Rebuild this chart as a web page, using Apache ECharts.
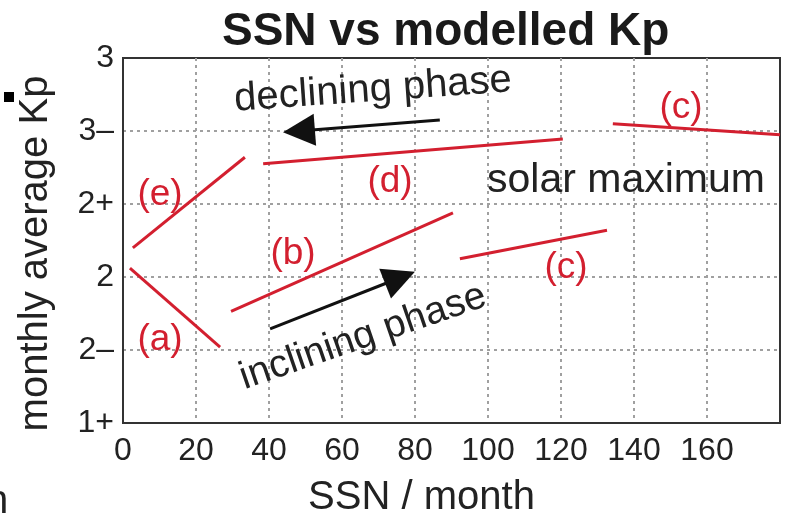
<!DOCTYPE html>
<html>
<head>
<meta charset="utf-8">
<script src="https://cdn.jsdelivr.net/npm/echarts@6/dist/echarts.min.js"></script>
<style>html,body{margin:0;padding:0;background:#fff}#c{width:787px;height:518px}</style>
</head>
<body>
<div id="c"></div>
<script>
// Kp expressed in thirds: 1+ = 4, 2- = 5, 2 = 6, 2+ = 7, 3- = 8, 3 = 9
var yTickLabels = {4: '1+', 5: '2\u2013', 6: '2', 7: '2+', 8: '3\u2013', 9: '3'};
var xTickValues = [0, 20, 40, 60, 80, 100, 120, 140, 160];

var segA = [[1.9, 6.12], [26.6, 5.04]];
var segE = [[2.7, 6.40], [33.4, 7.64]];
var segD = [[38.4, 7.55], [120.5, 7.89]];
var segB = [[29.6, 5.53], [90.4, 6.88]];
var segC1 = [[92.3, 6.25], [132.6, 6.64]];
var segC2 = [[134.2, 8.10], [180, 7.95]];

var arrowDeclining = [[86.8, 8.15], [48.2, 8.00]];
var arrowInclining = [[40.3, 5.29], [75.9, 5.99]];

var RED = '#d31f2f';
var FONT = '"Liberation Sans", Arial, sans-serif';

function seg(name, d) {
  return {
    name: name, type: 'line', data: d, showSymbol: false, symbol: 'none',
    lineStyle: {color: RED, width: 3}, itemStyle: {color: RED}, z: 3, silent: true
  };
}

var chart = echarts.init(document.getElementById('c'), null, {renderer: 'canvas'});

function txt(t, x, y, size, color, rotDeg) {
  return {
    type: 'text', x: x, y: y, rotation: (rotDeg || 0) * Math.PI / 180, z: 10,
    style: {text: t, fill: color, font: size + 'px ' + FONT, align: 'center', verticalAlign: 'middle'}
  };
}

chart.setOption({
  animation: false,
  backgroundColor: '#fff',
  title: {
    text: 'SSN vs modelled Kp', left: 217, top: 4,
    textStyle: {fontSize: 46, fontWeight: 'bold', fontFamily: FONT, color: '#1a1a1a'}
  },
  grid: {left: 123, right: 7, top: 58, bottom: 95, containLabel: false, outerBoundsMode: 'none',
         show: true, borderColor: '#333', borderWidth: 2},
  xAxis: {
    type: 'value', min: 0, max: 180, interval: 20,
    name: 'SSN / month', nameLocation: 'middle', nameGap: 55,
    nameTextStyle: {fontSize: 40, fontFamily: FONT, color: '#222', padding: [0, 60, 0, 0]},
    axisLine: {show: true, lineStyle: {color: '#333', width: 2}},
    axisTick: {show: false},
    axisLabel: {
      fontSize: 32, fontFamily: FONT, color: '#222', margin: 12, showMaxLabel: false,
      formatter: function (v) { return xTickValues.indexOf(v) >= 0 ? String(v) : ''; }
    },
    splitLine: {show: true, showMinLine: false, showMaxLine: false, lineStyle: {color: '#a0a0a0', type: [3, 4], width: 2}}
  },
  yAxis: {
    type: 'value', min: 4, max: 9, interval: 1,
    name: 'monthly average Kp', nameLocation: 'middle', nameGap: 67, nameRotate: 90,
    nameTextStyle: {fontSize: 40, fontFamily: FONT, color: '#222', padding: [0, 26, 0, 0]},
    axisLine: {show: true, lineStyle: {color: '#333', width: 2}},
    axisTick: {show: false},
    axisLabel: {
      fontSize: 32, fontFamily: FONT, color: '#222', margin: 9,
      formatter: function (v) { return yTickLabels[v] || ''; }
    },
    splitLine: {show: true, showMinLine: false, showMaxLine: false, lineStyle: {color: '#a0a0a0', type: [3, 4], width: 2}}
  },
  series: [
    seg('a', segA), seg('e', segE), seg('d', segD), seg('b', segB), seg('c1', segC1), seg('c2', segC2),
    {
      type: 'lines', coordinateSystem: 'cartesian2d', polyline: false, silent: true, z: 4,
      symbol: ['none', 'triangle'], symbolSize: [32, 32],
      lineStyle: {color: '#111', width: 3, opacity: 1},
      data: [{coords: arrowDeclining}, {coords: arrowInclining}]
    }
  ],
  graphic: [
    txt('declining phase', 373, 90, 40, '#222', 4),
    txt('inclining phase', 363, 337, 39, '#222', 19),
    txt('solar maximum', 626, 181, 41, '#222', 0),
    txt('(e)', 160, 195, 37, RED, 0),
    txt('(d)', 390, 182, 37, RED, 0),
    txt('(b)', 293, 254, 37, RED, 0),
    txt('(a)', 160, 340, 37, RED, 0),
    txt('(c)', 566, 268, 37, RED, 0),
    txt('(c)', 681, 108, 37, RED, 0),
    {type: 'rect', shape: {x: 4, y: 92, width: 10, height: 10}, style: {fill: '#000'}},
    {type: 'text', x: -14, y: 502, style: {text: 'n', fill: '#222', font: '40px ' + FONT, align: 'left', verticalAlign: 'middle'}}
  ]
});
</script>
</body>
</html>
